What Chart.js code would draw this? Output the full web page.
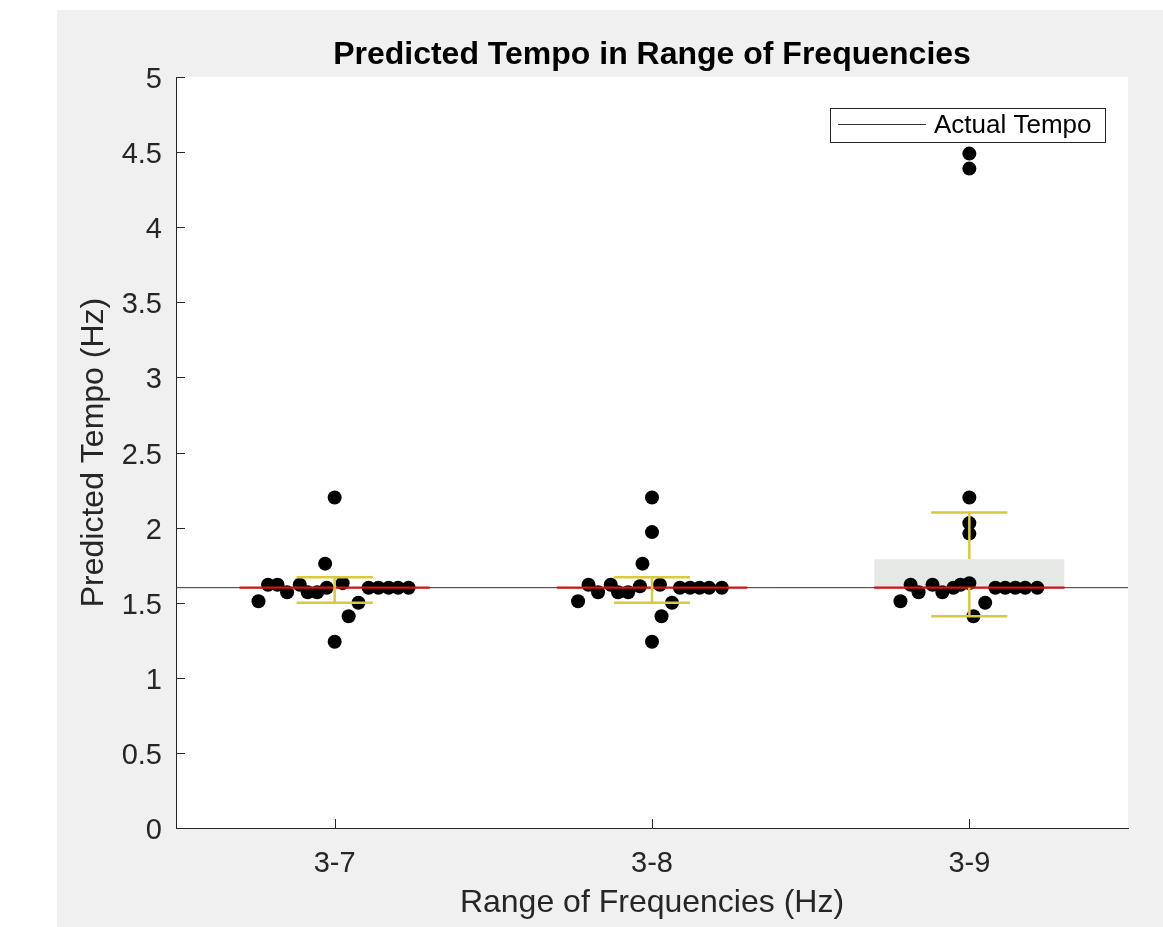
<!DOCTYPE html>
<html>
<head>
<meta charset="utf-8">
<script src="https://cdn.jsdelivr.net/npm/chart.js@4/dist/chart.umd.min.js"></script>
<style>
  html, body { margin: 0; padding: 0; background: #ffffff; }
  canvas { display: block; }
</style>
</head>
<body>
<canvas id="c" width="1163" height="927"></canvas>
<script>
// ---------- data ----------
const categories = ["3-7", "3-8", "3-9"];
const yTickValues = [0, 0.5, 1, 1.5, 2, 2.5, 3, 3.5, 4, 4.5, 5];

// predicted tempo values (Hz) per range, with the swarm offset (category units) of each dot
const tempo37  = [2.20, 1.76, 1.62, 1.62, 1.57, 1.62, 1.57, 1.57, 1.60, 1.63, 1.60, 1.60, 1.60, 1.60, 1.60, 1.51, 1.50, 1.41, 1.24];
const spread37 = [0.00, -0.03, -0.21, -0.18, -0.15, -0.11, -0.085, -0.055, -0.025, 0.025, 0.107, 0.138, 0.17, 0.20, 0.233, -0.24, 0.075, 0.044, 0.00];

const tempo38  = [2.20, 1.97, 1.76, 1.62, 1.57, 1.62, 1.57, 1.57, 1.61, 1.62, 1.60, 1.60, 1.60, 1.60, 1.60, 1.51, 1.50, 1.41, 1.24];
const spread38 = [0.00, 0.00, -0.03, -0.20, -0.17, -0.13, -0.107, -0.075, -0.038, 0.025, 0.088, 0.12, 0.15, 0.18, 0.22, -0.233, 0.063, 0.03, 0.00];

const tempo39  = [4.49, 4.39, 2.20, 2.03, 1.96, 1.62, 1.57, 1.62, 1.57, 1.60, 1.62, 1.63, 1.60, 1.60, 1.60, 1.60, 1.60, 1.51, 1.50, 1.41];
const spread39 = [0.00, 0.00, 0.00, 0.00, 0.00, -0.185, -0.16, -0.116, -0.085, -0.05, -0.028, 0.00, 0.082, 0.113, 0.145, 0.176, 0.214, -0.217, 0.05, 0.013];

const medians = [1.60, 1.60, 1.60];
const sdHigh  = [1.67, 1.67, 2.10];
const sdLow   = [1.50, 1.50, 1.41];
const boxHigh = [1.60, 1.60, 1.79];
const boxLow  = [1.60, 1.60, 1.60];
const actualTempo = 1.60;

// ---------- build datasets ----------
const groups = [[tempo37, spread37], [tempo38, spread38], [tempo39, spread39]];
const dots = [];
groups.forEach((g, gi) => g[0].forEach((v, i) => dots.push({ x: gi + 1 + g[1][i], y: v })));

const halfMed = 0.3, halfCap = 0.12;
const medianPts = [], whiskerPts = [];
categories.forEach((c, i) => {
  const x = i + 1;
  medianPts.push({ x: x - halfMed, y: medians[i] }, { x: x + halfMed, y: medians[i] }, { x: x, y: null });
  whiskerPts.push(
    { x: x - halfCap, y: sdHigh[i] }, { x: x + halfCap, y: sdHigh[i] }, { x: x, y: null },
    { x: x - halfCap, y: sdLow[i] },  { x: x + halfCap, y: sdLow[i] },  { x: x, y: null },
    { x: x, y: sdHigh[i] }, { x: x, y: boxHigh[i] }, { x: x, y: null },
    { x: x, y: boxLow[i] }, { x: x, y: sdLow[i] }, { x: x, y: null }
  );
});

const boxSets = categories.map((c, i) => ({
  label: 'box' + i,
  data: [{ x: i + 1 - halfMed, y: boxHigh[i] }, { x: i + 1 + halfMed, y: boxHigh[i] }],
  borderWidth: 0, borderColor: 'rgba(0,0,0,0)',
  backgroundColor: '#e6e8e6',
  fill: { value: boxLow[i] },
  pointRadius: 0, order: 10
}));

const FONT = '"Liberation Sans", Arial, Helvetica, sans-serif';
const AX = '#262626';

const bgPlugin = {
  id: 'bg',
  beforeDraw(chart) {
    const ctx = chart.ctx, a = chart.chartArea;
    ctx.save();
    ctx.fillStyle = '#f0f0f0';
    ctx.fillRect(57, 10, chart.width - 57, chart.height - 10);
    ctx.fillStyle = '#ffffff';
    ctx.fillRect(a.left, a.top, a.right - a.left, a.bottom - a.top);
    ctx.restore();
  }
};

const tickPlugin = {
  id: 'inTicks',
  afterDraw(chart) {
    const ctx = chart.ctx, xs = chart.scales.x, ys = chart.scales.y;
    const L = 9;
    ctx.save();
    ctx.strokeStyle = AX; ctx.lineWidth = 1;
    ctx.beginPath();
    ys.ticks.forEach(t => {
      const y = Math.round(ys.getPixelForValue(t.value)) + 0.5;
      ctx.moveTo(xs.left, y); ctx.lineTo(xs.left + L, y);
    });
    xs.ticks.forEach(t => {
      const x = Math.round(xs.getPixelForValue(t.value)) + 0.5;
      ctx.moveTo(x, ys.bottom); ctx.lineTo(x, ys.bottom - L);
    });
    ctx.stroke();
    ctx.restore();
  }
};

const legendPlugin = {
  id: 'boxLegend',
  afterDraw(chart) {
    const ds = chart.data.datasets.find(d => d.showInLegend);
    const ctx = chart.ctx;
    const left = 830, top = 108, w = 275, h = 34;
    ctx.save();
    ctx.fillStyle = '#ffffff';
    ctx.fillRect(left, top, w, h);
    ctx.strokeStyle = '#262626'; ctx.lineWidth = 1;
    ctx.strokeRect(left + 0.5, top + 0.5, w, h);
    const cy = top + h / 2;
    ctx.strokeStyle = ds.borderColor; ctx.lineWidth = 1;
    ctx.beginPath(); ctx.moveTo(838, Math.round(cy) - 0.5); ctx.lineTo(926, Math.round(cy) - 0.5); ctx.stroke();
    ctx.fillStyle = '#000000';
    ctx.font = '26px ' + FONT;
    ctx.textBaseline = 'middle'; ctx.textAlign = 'left';
    ctx.fillText(ds.label, 934, cy + 1);
    ctx.restore();
  }
};

new Chart(document.getElementById('c'), {
  type: 'line',
  data: {
    datasets: [
      ...boxSets,
      {
        label: 'Actual Tempo', showInLegend: true,
        data: [{ x: 0.5, y: actualTempo }, { x: categories.length + 0.5, y: actualTempo }],
        borderColor: '#333333', borderWidth: 1, pointRadius: 0, fill: false, order: 8
      },
      {
        label: 'points', data: dots, showLine: false,
        pointRadius: 7, pointHoverRadius: 7, pointBackgroundColor: '#000000', pointBorderWidth: 0,
        borderColor: '#000000', order: 6
      },
      {
        label: 'median', data: medianPts, spanGaps: false,
        borderColor: '#d01515', borderWidth: 2.2, pointRadius: 0, fill: false, order: 4
      },
      {
        label: 'sd', data: whiskerPts, spanGaps: false,
        borderColor: '#d9c93b', borderWidth: 2.5, pointRadius: 0, fill: false, order: 2
      }
    ]
  },
  options: {
    responsive: false, animation: false,
    layout: { padding: { left: 0, right: 35, top: 0, bottom: 0 } },
    plugins: {
      legend: { display: false },
      tooltip: { enabled: false },
      title: {
        display: true, fullSize: false, text: 'Predicted Tempo in Range of Frequencies', color: '#000000',
        font: { family: FONT, size: 32, weight: 'bold' },
        padding: { top: 36, bottom: 2.6 }
      }
    },
    scales: {
      x: {
        type: 'linear', min: 0.5, max: categories.length + 0.5,
        afterBuildTicks: s => { s.ticks = categories.map((c, i) => ({ value: i + 1 })); },
        afterFit: s => { s.height = 99; },
        ticks: {
          callback: v => categories[Math.round(v) - 1] ?? '',
          color: AX, font: { family: FONT, size: 29 }, padding: 19, maxRotation: 0, autoSkip: false
        },
        grid: { display: false, drawTicks: false },
        border: { display: true, color: AX, width: 1 },
        title: { display: true, text: 'Range of Frequencies (Hz)', color: AX, font: { family: FONT, size: 32 }, padding: { top: 0, bottom: 5 } }
      },
      y: {
        min: 0, max: 5,
        afterBuildTicks: s => { s.ticks = yTickValues.map(v => ({ value: v })); },
        afterFit: s => { s.width = 176; },
        ticks: { color: AX, font: { family: FONT, size: 29 }, padding: 14, labelOffset: 3, callback: v => String(v) },
        grid: { display: false, drawTicks: false },
        border: { display: true, color: AX, width: 1 },
        title: { display: true, text: 'Predicted Tempo (Hz)', color: AX, font: { family: FONT, size: 32 }, padding: { top: 75, bottom: 0 } }
      }
    }
  },
  plugins: [bgPlugin, tickPlugin, legendPlugin]
});
</script>
</body>
</html>
